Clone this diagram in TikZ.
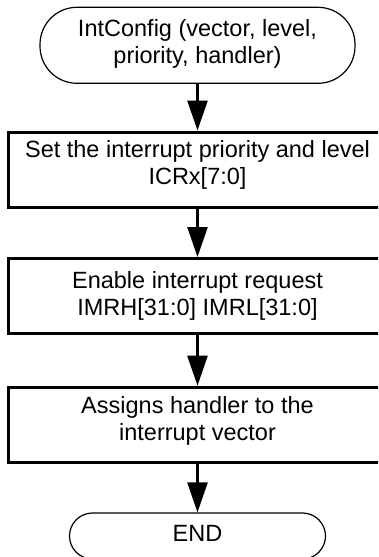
\documentclass[tikz,border=0pt]{standalone}
\usepackage{fontspec}
\setmainfont{Liberation Sans}
\usetikzlibrary{arrows.meta}
\begin{document}
\begin{tikzpicture}[x=1pt,y=-1pt,
  every node/.style={font=\fontsize{23.5}{27}\selectfont, align=center, inner sep=0pt},
  terminal/.style={draw, line width=1.2pt, rounded corners=37pt, minimum width=315pt, minimum height=76pt},
  endterm/.style={draw, line width=1.2pt, rounded corners=23pt, minimum width=256pt, minimum height=46pt},
  procbox/.style={draw, line width=3pt, minimum width=378pt, minimum height=75pt},
  flow/.style={line width=2.5pt, -{Triangle[length=30pt,width=20pt]}}]
\useasboundingbox (0,0) rectangle (378,557);
\clip (0,0) rectangle (378,557);
\node[terminal, label={[yshift=1.5pt]center:IntConfig (vector, level,\\priority, handler)}] (start) at (197.5,45.3) {};
\node[procbox, label={[yshift=5pt]center:Set the interrupt priority and level\\ICRx[7:0]}] (box1) at (197.5,169.5) {};
\node[procbox, label={[yshift=0pt]center:Enable interrupt request\\IMRH[31:0] IMRL[31:0]}] (box2) at (197.5,296) {};
\node[procbox, label={[yshift=4pt]center:Assigns handler to the\\interrupt vector}] (box3) at (197.5,424.7) {};
\node[endterm, label={[yshift=2.5pt]center:END}] (stop) at (197.5,536) {};
\draw[flow] (start) -- (box1);
\draw[flow] (box1) -- (box2);
\draw[flow] (box2) -- (box3);
\draw[flow] (box3) -- (stop);
\end{tikzpicture}
\end{document}
